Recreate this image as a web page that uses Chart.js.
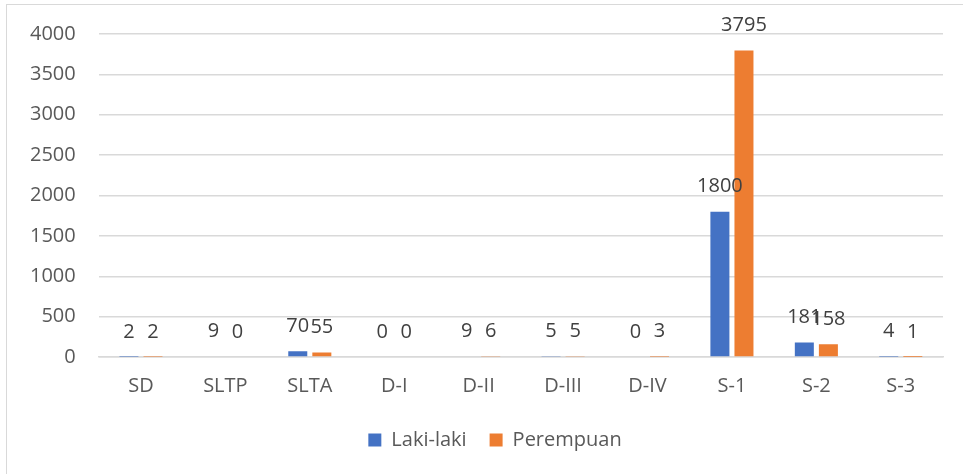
<!DOCTYPE html>
<html>
<head>
<meta charset="utf-8">
<script src="https://cdn.jsdelivr.net/npm/chart.js@4"></script>
<style>
  html, body { margin: 0; padding: 0; background: #fff; overflow: hidden; }
  #frame {
    position: absolute; left: 6px; top: 4px;
    width: 1000px; height: 520px;
    border: 1.5px solid #d9d9d9;
    box-sizing: border-box;
  }
  #wrap { position: absolute; left: 0; top: -6px; width: 1000px; height: 470px; }
</style>
</head>
<body>
<div id="frame">
  <div id="wrap"><canvas id="myChart"></canvas></div>
</div>
<script>
const kategori = ['SD', 'SLTP', 'SLTA', 'D-I', 'D-II', 'D-III', 'D-IV', 'S-1', 'S-2', 'S-3'];
const lakiLaki = [2, 9, 70, 0, 9, 5, 0, 1800, 181, 4];
const perempuan = [2, 0, 55, 0, 6, 5, 3, 3795, 158, 1];
const tickY = [0, 500, 1000, 1500, 2000, 2500, 3000, 3500, 4000];

const fontUtama = "'Open Sans', 'Liberation Sans', sans-serif";

// label angka di atas batang
const labelNilai = {
  id: 'labelNilai',
  afterDatasetsDraw(chart) {
    const c = chart.ctx;
    c.save();
    c.font = '20px ' + fontUtama;
    c.fillStyle = '#404040';
    c.textAlign = 'center';
    c.textBaseline = 'middle';
    chart.data.datasets.forEach((ds, i) => {
      chart.getDatasetMeta(i).data.forEach((bar, j) => {
        c.fillText(String(ds.data[j]), bar.x, bar.y - 25);
      });
    });
    c.restore();
  }
};

// geser legenda sedikit ke kanan (di Excel legenda ditengah seluruh kotak)
const geserLegenda = {
  id: 'geserLegenda',
  afterLayout(chart) {
    if (chart.legend) {
      chart.legend.left += 20;
      chart.legend.right += 20;
    }
  }
};

const ctx = document.getElementById('myChart');
new Chart(ctx, {
  type: 'bar',
  data: {
    labels: kategori,
    datasets: [
      { label: 'Laki-laki', data: lakiLaki, backgroundColor: '#4472C4' },
      { label: 'Perempuan', data: perempuan, backgroundColor: '#ED7D31' }
    ]
  },
  options: {
    responsive: true,
    maintainAspectRatio: false,
    animation: false,
    categoryPercentage: 0.57,
    barPercentage: 0.79,
    layout: { padding: { left: 0, right: 64, top: 20, bottom: 9 } },
    plugins: {
      tooltip: { enabled: false },
      legend: {
        position: 'bottom',
        labels: {
          boxWidth: 13, boxHeight: 13,
          padding: 23,
          color: '#595959',
          font: { family: fontUtama, size: 20 }
        }
      }
    },
    scales: {
      x: {
        grid: { display: false },
        border: { color: '#d9d9d9', width: 1.5 },
        ticks: { color: '#595959', padding: 9, font: { family: fontUtama, size: 20 } }
      },
      y: {
        min: 0, max: 4000,
        afterBuildTicks(axis) { axis.ticks = tickY.map(v => ({ value: v })); },
        grid: { color: '#d9d9d9', lineWidth: 1.5, drawTicks: false },
        border: { display: false },
        ticks: {
          color: '#595959', padding: 23,
          font: { family: fontUtama, size: 20 },
          callback: v => String(v)
        }
      }
    }
  },
  plugins: [labelNilai, geserLegenda]
});
</script>
</body>
</html>
